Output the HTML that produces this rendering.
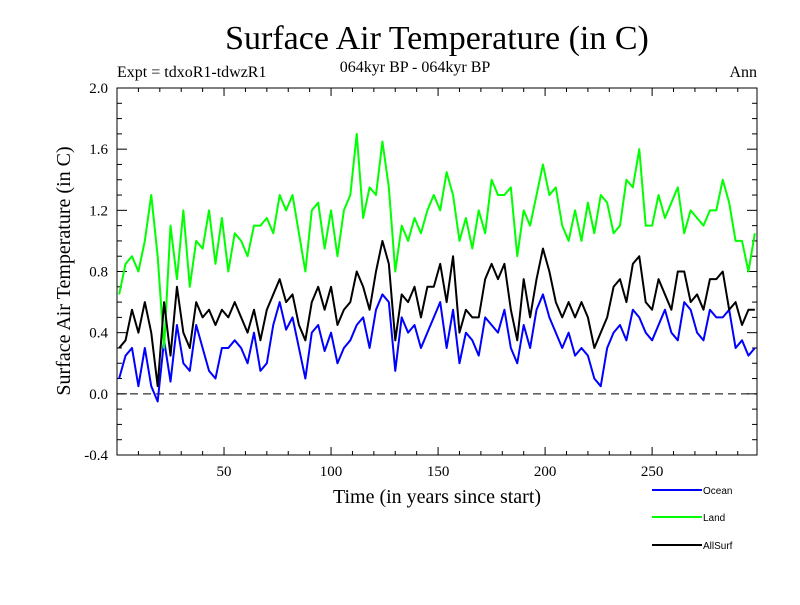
<!DOCTYPE html>
<html><head><meta charset="utf-8"><style>
body{margin:0;background:#fff;}
svg text{font-family:"Liberation Serif",serif;}
</style></head><body>
<svg id="chart" width="800" height="600" xmlns="http://www.w3.org/2000/svg">
<rect width="800" height="600" fill="#fff"/>
<text x="437" y="49" font-size="34" text-anchor="middle">Surface Air Temperature (in C)</text>
<text x="117" y="77" font-size="16">Expt = tdxoR1-tdwzR1</text>
<text x="415" y="72" font-size="16" text-anchor="middle">064kyr BP - 064kyr BP</text>
<text x="757" y="77" font-size="16" text-anchor="end">Ann</text>
<text transform="translate(70,271) rotate(-90)" font-size="20" text-anchor="middle">Surface Air Temperature (in C)</text>
<text x="437" y="503" font-size="20" text-anchor="middle">Time (in years since start)</text>
<g id="axes"></g>
<g id="series"></g>
<g id="legend"></g>
</svg>
<script>
const years=[1,4,7,10,13,16,19,22,25,28,31,34,37,40,43,46,49,52,55,58,61,64,67,70,73,76,79,82,85,88,91,94,97,100,103,106,109,112,115,118,121,124,127,130,133,136,139,142,145,148,151,154,157,160,163,166,169,172,175,178,181,184,187,190,193,196,199,202,205,208,211,214,217,220,223,226,229,232,235,238,241,244,247,250,253,256,259,262,265,268,271,274,277,280,283,286,289,292,295,298];
const ocean=[0.1,0.25,0.3,0.05,0.3,0.05,-0.05,0.35,0.08,0.45,0.2,0.15,0.45,0.3,0.15,0.1,0.3,0.3,0.35,0.3,0.2,0.4,0.15,0.2,0.45,0.6,0.42,0.5,0.3,0.1,0.4,0.45,0.28,0.4,0.2,0.3,0.35,0.45,0.5,0.3,0.55,0.65,0.6,0.15,0.5,0.4,0.45,0.3,0.4,0.5,0.6,0.3,0.55,0.2,0.4,0.35,0.25,0.5,0.45,0.4,0.55,0.3,0.2,0.45,0.3,0.55,0.65,0.5,0.4,0.3,0.4,0.25,0.3,0.25,0.1,0.05,0.3,0.4,0.45,0.35,0.55,0.5,0.4,0.35,0.45,0.55,0.4,0.35,0.6,0.55,0.4,0.35,0.55,0.5,0.5,0.55,0.3,0.35,0.25,0.3];
const land=[0.65,0.85,0.9,0.8,1.0,1.3,0.9,0.3,1.1,0.75,1.2,0.7,1.0,0.95,1.2,0.85,1.15,0.8,1.05,1.0,0.9,1.1,1.1,1.15,1.05,1.3,1.2,1.3,1.05,0.8,1.2,1.25,0.95,1.2,0.9,1.2,1.3,1.7,1.15,1.35,1.3,1.65,1.35,0.8,1.1,1.0,1.15,1.05,1.2,1.3,1.2,1.45,1.3,1.0,1.15,0.95,1.2,1.05,1.4,1.3,1.3,1.35,0.9,1.2,1.1,1.3,1.5,1.3,1.35,1.1,1.0,1.2,1.0,1.25,1.05,1.3,1.25,1.05,1.1,1.4,1.35,1.6,1.1,1.1,1.3,1.15,1.25,1.35,1.05,1.2,1.15,1.1,1.2,1.2,1.4,1.25,1.0,1.0,0.8,1.05];
const allsurf=[0.3,0.35,0.55,0.4,0.6,0.4,0.05,0.6,0.25,0.7,0.4,0.3,0.6,0.5,0.55,0.45,0.55,0.5,0.6,0.5,0.4,0.55,0.35,0.55,0.65,0.75,0.6,0.65,0.45,0.35,0.6,0.7,0.55,0.7,0.45,0.55,0.6,0.8,0.7,0.55,0.8,1.0,0.85,0.35,0.65,0.6,0.7,0.5,0.7,0.7,0.85,0.6,0.9,0.4,0.55,0.5,0.5,0.75,0.85,0.75,0.85,0.55,0.35,0.75,0.5,0.75,0.95,0.8,0.6,0.5,0.6,0.5,0.6,0.5,0.3,0.4,0.5,0.7,0.75,0.6,0.85,0.9,0.6,0.55,0.75,0.65,0.55,0.8,0.8,0.6,0.65,0.55,0.75,0.75,0.8,0.55,0.6,0.45,0.55,0.55];
const xTicks=[50,100,150,200,250];
const yTicks=[-0.4,0,0.4,0.8,1.2,1.6,2.0];
const X0=117,X1=757,Y0=88,Y1=455,XMIN=0,XMAX=299,YMIN=-0.4,YMAX=2.0;
const sx=v=>X0+(v-XMIN)/(XMAX-XMIN)*(X1-X0);
const sy=v=>Y1-(v-YMIN)/(YMAX-YMIN)*(Y1-Y0);
const NS="http://www.w3.org/2000/svg";
function mk(tag,attrs,parent){const e=document.createElementNS(NS,tag);for(const k in attrs)e.setAttribute(k,attrs[k]);parent.appendChild(e);return e;}
const ax=document.getElementById('axes');
const frame=mk('rect',{x:X0,y:Y0,width:X1-X0,height:Y1-Y0,fill:'none',stroke:'#000','stroke-width':1},ax);


const zl=mk('line',{x1:X0,x2:X1,y1:sy(0),y2:sy(0),stroke:'#000','stroke-dasharray':'8,5'},ax);


for(let v=10;v<XMAX;v+=10){const L=(v%50===0)?8:4;
mk('line',{x1:sx(v),x2:sx(v),y1:Y1,y2:Y1-L,stroke:'#000'},ax);
mk('line',{x1:sx(v),x2:sx(v),y1:Y0,y2:Y0+L,stroke:'#000'},ax);}
for(let i=-4;i<=20;i++){const v=i/10;const L=(i%4===0)?10:5;
mk('line',{x1:X0,x2:X0+L,y1:sy(v),y2:sy(v),stroke:'#000'},ax);
mk('line',{x1:X1,x2:X1-L,y1:sy(v),y2:sy(v),stroke:'#000'},ax);}
xTicks.forEach(v=>{const t=mk('text',{x:sx(v),y:Y1+21,'font-size':15,'text-anchor':'middle'},ax);t.textContent=v;

});
yTicks.forEach(v=>{const t=mk('text',{x:X0-9,y:sy(v)+5,'font-size':15,'text-anchor':'end'},ax);t.textContent=v.toFixed(1);

});
const sg=document.getElementById('series');
const series=[['ocean',ocean,'#0000ff'],['land',land,'#00ff00'],['allsurf',allsurf,'#000000']];
series.forEach(([n,d,c])=>{const p=mk('polyline',{points:years.map((y,i)=>sx(y)+','+sy(d[i])).join(' '),fill:'none',stroke:c,'stroke-width':2,'stroke-linejoin':'round'},sg);

});
const lg=document.getElementById('legend');
[['Ocean','#0000ff',490],['Land','#00ff00',517],['AllSurf','#000000',545]].forEach(([n,c,y])=>{
const g=mk('g',{},lg);


mk('line',{x1:652,x2:702,y1:y,y2:y,stroke:c,'stroke-width':2},g);
const t=mk('text',{x:703,y:y+4,'font-size':10,style:'font-family:"Liberation Sans",sans-serif'},g);t.textContent=n;});
</script>
</body></html>
